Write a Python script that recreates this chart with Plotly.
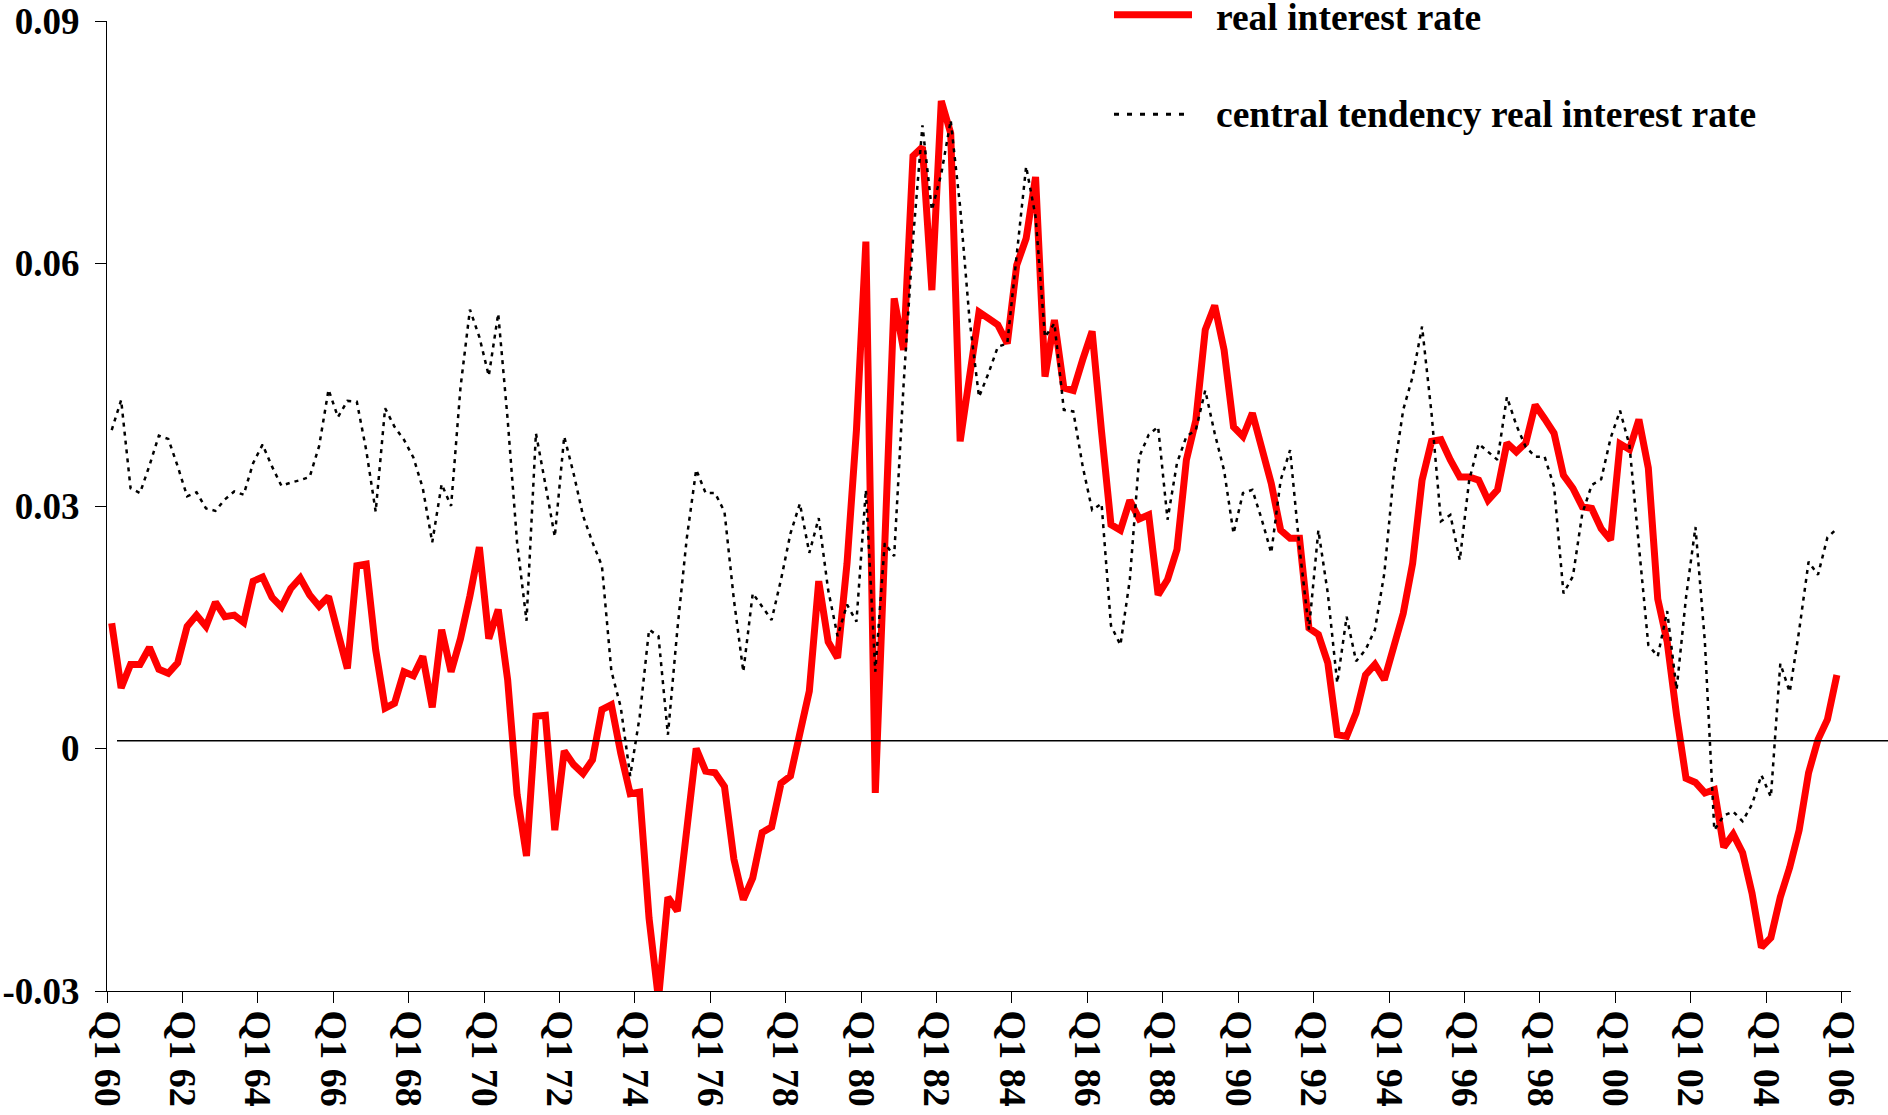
import plotly.graph_objects as go

# Quarterly observations, Q1 1960 .. Q4 2005
real_rate = [
    0.0155, 0.0075, 0.0104, 0.0104, 0.0125, 0.0098, 0.0093, 0.0106, 0.0151, 0.0165,
    0.0151, 0.0181, 0.0163, 0.0165, 0.0156, 0.0207, 0.0212, 0.0187, 0.0175, 0.0198,
    0.0211, 0.0190, 0.0176, 0.0188, 0.0143, 0.0099, 0.0226, 0.0228, 0.0122, 0.0050,
    0.0056, 0.0095, 0.0090, 0.0114, 0.0051, 0.0147, 0.0095, 0.0136, 0.0189, 0.0249,
    0.0136, 0.0172, 0.0085, -0.0057, -0.0133, 0.0040, 0.0041, -0.0101, -0.0003, -0.0020,
    -0.0031, -0.0014, 0.0048, 0.0054, -0.0006, -0.0056, -0.0054, -0.0210, -0.0310, -0.0184,
    -0.0201, -0.0102, 0.0000, -0.0028, -0.0030, -0.0047, -0.0137, -0.0187, -0.0160, -0.0104,
    -0.0097, -0.0043, -0.0034, 0.0019, 0.0071, 0.0207, 0.0132, 0.0112, 0.0229, 0.0394,
    0.0627, -0.0055, 0.0240, 0.0557, 0.0493, 0.0733, 0.0744, 0.0567, 0.0801, 0.0761,
    0.0380, 0.0460, 0.0540, 0.0532, 0.0524, 0.0501, 0.0598, 0.0631, 0.0707, 0.0460,
    0.0530, 0.0446, 0.0443, 0.0481, 0.0516, 0.0392, 0.0277, 0.0270, 0.0307, 0.0284,
    0.0289, 0.0190, 0.0209, 0.0246, 0.0357, 0.0406, 0.0518, 0.0548, 0.0493, 0.0398,
    0.0386, 0.0415, 0.0367, 0.0328, 0.0270, 0.0260, 0.0260, 0.0149, 0.0141, 0.0106,
    0.0017, 0.0015, 0.0044, 0.0091, 0.0104, 0.0085, 0.0126, 0.0167, 0.0229, 0.0332,
    0.0380, 0.0382, 0.0357, 0.0336, 0.0336, 0.0332, 0.0307, 0.0320, 0.0378, 0.0367,
    0.0378, 0.0425, 0.0408, 0.0390, 0.0338, 0.0322, 0.0299, 0.0297, 0.0272, 0.0258,
    0.0377, 0.0370, 0.0407, 0.0347, 0.0185, 0.0132, 0.0041, -0.0037, -0.0042, -0.0055,
    -0.0051, -0.0122, -0.0106, -0.0129, -0.0179, -0.0246, -0.0234, -0.0184, -0.0147, -0.0101,
    -0.0030, 0.0011, 0.0036, 0.0091,
]

central_tendency = [
    0.0394, 0.0431, 0.0322, 0.0316, 0.0350, 0.0387, 0.0383, 0.0349, 0.0312, 0.0317,
    0.0297, 0.0294, 0.0308, 0.0318, 0.0314, 0.0353, 0.0376, 0.0349, 0.0325, 0.0329,
    0.0332, 0.0336, 0.0374, 0.0444, 0.0410, 0.0430, 0.0429, 0.0369, 0.0293, 0.0421,
    0.0398, 0.0382, 0.0360, 0.0322, 0.0255, 0.0327, 0.0300, 0.0447, 0.0543, 0.0509,
    0.0461, 0.0538, 0.0407, 0.0255, 0.0158, 0.0390, 0.0327, 0.0262, 0.0386, 0.0340,
    0.0288, 0.0255, 0.0226, 0.0096, 0.0051, -0.0034, 0.0039, 0.0147, 0.0139, 0.0017,
    0.0147, 0.0260, 0.0345, 0.0316, 0.0316, 0.0293, 0.0184, 0.0095, 0.0192, 0.0176,
    0.0159, 0.0209, 0.0266, 0.0303, 0.0242, 0.0285, 0.0196, 0.0139, 0.0178, 0.0157,
    0.0320, 0.0095, 0.0254, 0.0238, 0.0450, 0.0630, 0.0771, 0.0666, 0.0711, 0.0777,
    0.0670, 0.0530, 0.0435, 0.0464, 0.0497, 0.0501, 0.0610, 0.0720, 0.0658, 0.0509,
    0.0526, 0.0419, 0.0417, 0.0349, 0.0295, 0.0303, 0.0152, 0.0128, 0.0209, 0.0361,
    0.0388, 0.0398, 0.0283, 0.0353, 0.0386, 0.0394, 0.0443, 0.0390, 0.0344, 0.0266,
    0.0316, 0.0320, 0.0283, 0.0242, 0.0332, 0.0369, 0.0248, 0.0147, 0.0270, 0.0192,
    0.0081, 0.0163, 0.0108, 0.0122, 0.0147, 0.0217, 0.0340, 0.0419, 0.0460, 0.0522,
    0.0415, 0.0281, 0.0289, 0.0233, 0.0332, 0.0377, 0.0367, 0.0357, 0.0435, 0.0400,
    0.0373, 0.0361, 0.0361, 0.0324, 0.0192, 0.0213, 0.0291, 0.0326, 0.0333, 0.0384,
    0.0418, 0.0375, 0.0251, 0.0128, 0.0114, 0.0170, 0.0073, 0.0187, 0.0274, 0.0132,
    -0.0101, -0.0083, -0.0078, -0.0090, -0.0069, -0.0033, -0.0060, 0.0105, 0.0070, 0.0146,
    0.0231, 0.0215, 0.0261, 0.0272,
]

tick_labels = ["Q1 60", "Q1 62", "Q1 64", "Q1 66", "Q1 68", "Q1 70", "Q1 72", "Q1 74",
               "Q1 76", "Q1 78", "Q1 80", "Q1 82", "Q1 84", "Q1 86", "Q1 88", "Q1 90",
               "Q1 92", "Q1 94", "Q1 96", "Q1 98", "Q1 00", "Q1 02", "Q1 04", "Q1 06"]
y_tick_values = [-0.03, 0.0, 0.03, 0.06, 0.09]
y_tick_labels = ["-0.03", "0", "0.03", "0.06", "0.09"]
legend_names = ["real interest rate", "central tendency real interest rate"]
reference_level = 0.00095

# quarter index (category centres between tick boundaries)
n_cat = 185
x_pos = [i + 0.5 for i in range(len(real_rate))]
tick_pos = [8 * k for k in range(len(tick_labels))]

W, H = 1888, 1115
L, R, T, B = 107, 37, 20.7, 123.5
pw, ph = W - L - R, H - T - B


def px_x(x):  # page pixel -> paper
    return (x - L) / pw


def px_y(y):
    return (H - B - y) / ph


FONT = "Liberation Serif, Times New Roman, serif"

fig = go.Figure()
fig.add_trace(go.Scatter(x=x_pos, y=real_rate, mode="lines", name=legend_names[0],
                         line=dict(color="#ff0000", width=7), showlegend=False))
fig.add_trace(go.Scatter(x=x_pos, y=central_tendency, mode="lines", name=legend_names[1],
                         line=dict(color="#000000", width=2.5, dash="4px,5px"),
                         showlegend=False))

# horizontal reference line near zero (extends past the plot to the page edge)
fig.add_shape(type="line", xref="paper", yref="y", x0=px_x(117), x1=px_x(1900),
              y0=reference_level, y1=reference_level, line=dict(color="black", width=1.6))

# legend drawn manually
fig.add_shape(type="line", xref="paper", yref="paper", x0=px_x(1114), x1=px_x(1192),
              y0=px_y(14.5), y1=px_y(14.5), line=dict(color="#ff0000", width=7))
fig.add_shape(type="line", xref="paper", yref="paper", x0=px_x(1114), x1=px_x(1192),
              y0=px_y(114), y1=px_y(114), line=dict(color="black", width=3, dash="5px,8px"))
for name, yy in zip(legend_names, [17, 114]):
    fig.add_annotation(xref="paper", yref="paper", x=px_x(1214), y=px_y(yy),
                       xanchor="left", yanchor="middle", showarrow=False, text=name,
                       font=dict(family=FONT, size=37.5, color="black", weight="bold"))

fig.update_xaxes(range=[0, n_cat], tickmode="array", tickvals=tick_pos, ticktext=tick_labels,
                 tickangle=90, ticks="outside", ticklen=11, tickcolor="black", tickwidth=1,
                 showline=True, linecolor="black", linewidth=1, showgrid=False, zeroline=False,
                 tickfont=dict(family=FONT, size=38, color="black", weight="bold"),
                 automargin=False)
fig.update_yaxes(range=[-0.03, 0.09], tickmode="array", tickvals=y_tick_values,
                 ticktext=y_tick_labels, ticks="outside", ticklen=11, tickcolor="black",
                 tickwidth=1, showline=True, linecolor="black", linewidth=1, showgrid=False,
                 zeroline=False, tickfont=dict(family=FONT, size=37, color="black", weight="bold"),
                 automargin=False, ticklabelstandoff=8)
fig.update_layout(width=W, height=H, margin=dict(l=L, r=R, t=T, b=B, pad=0, autoexpand=False),
                  plot_bgcolor="white", paper_bgcolor="white", showlegend=False)

fig.write_html("out.html", config={"displayModeBar": False},
               post_script="document.body.style.margin='0';document.body.style.overflow='hidden';")
